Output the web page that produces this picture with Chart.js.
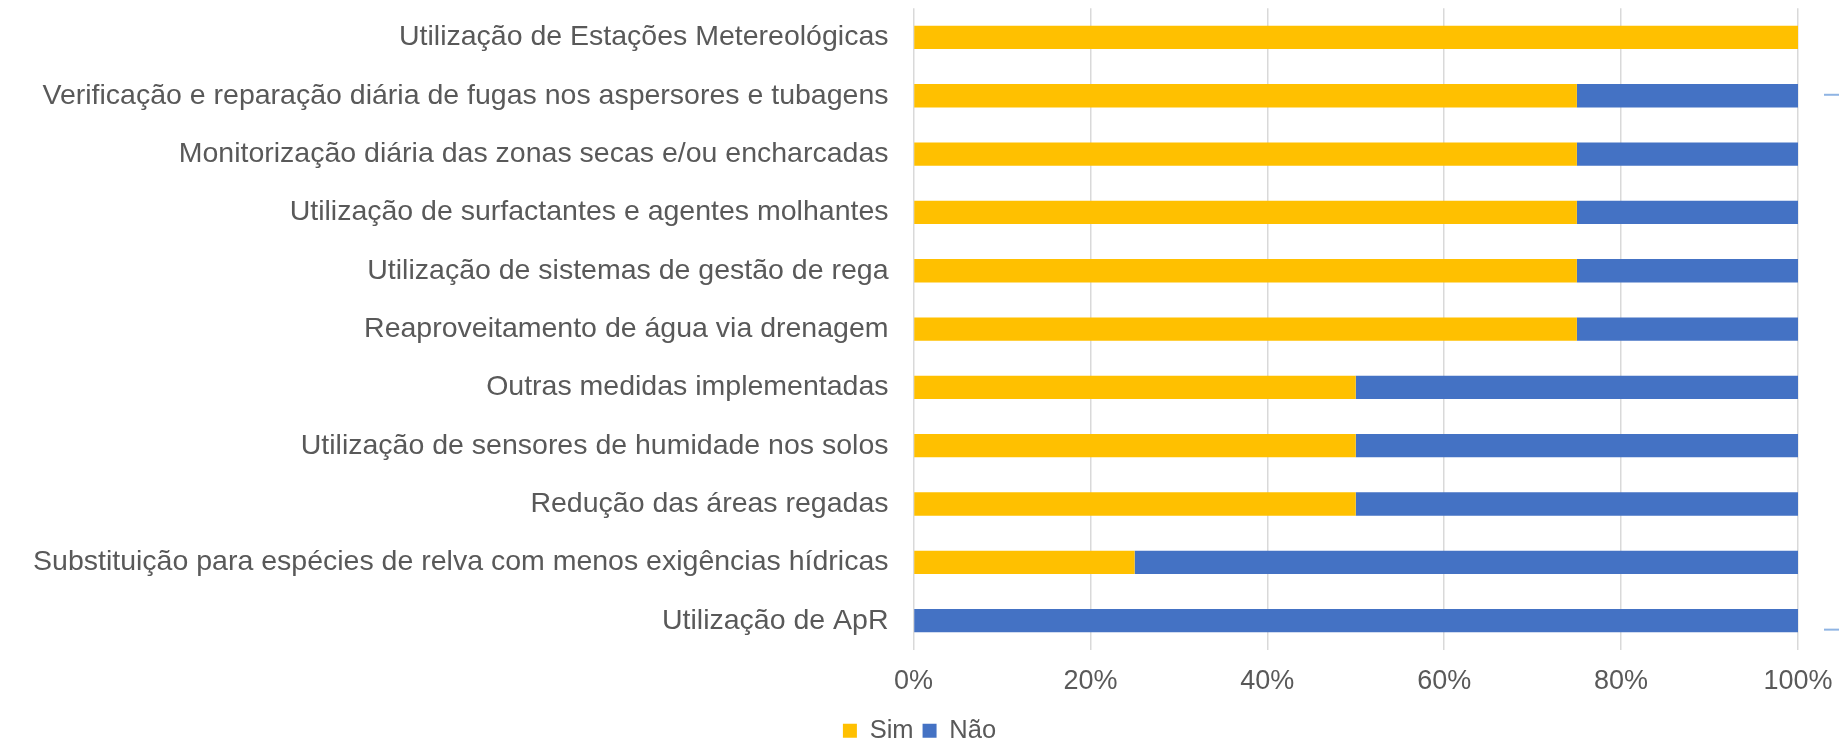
<!DOCTYPE html>
<html>
<head>
<meta charset="utf-8">
<script src="https://cdn.jsdelivr.net/npm/chart.js@4.4.1/dist/chart.umd.min.js"></script>
<style>
  html, body { margin: 0; padding: 0; background: #fff; }
  #wrap { width: 1839px; height: 744px; position: relative; }
</style>
</head>
<body>
<div id="wrap"><canvas id="chart"></canvas></div>
<script>
// data
const categories = [
    'Utilização de Estações Metereológicas',
    'Verificação e reparação diária de fugas nos aspersores e tubagens',
    'Monitorização diária das zonas secas e/ou encharcadas',
    'Utilização de surfactantes e agentes molhantes',
    'Utilização de sistemas de gestão de rega',
    'Reaproveitamento de água via drenagem',
    'Outras medidas implementadas',
    'Utilização de sensores de humidade nos solos',
    'Redução das áreas regadas',
    'Substituição para espécies de relva com menos exigências hídricas',
    'Utilização de ApR'
];
const simValues = [100, 75, 75, 75, 75, 75, 50, 50, 50, 25, 0];
const naoValues = [0, 25, 25, 25, 25, 25, 50, 50, 50, 75, 100];
const xTickStep = 20;

const textColor = '#595959';
const fontFamily = '"Liberation Sans", Arial, sans-serif';

// the two little blue strokes at the right edge
const edgeMarks = {
    id: 'edgeMarks',
    afterDraw(chart) {
        const ctx = chart.ctx;
        const y = chart.scales.y;
        const x0 = chart.chartArea.right + 26;
        const x1 = chart.width;
        ctx.save();
        ctx.strokeStyle = '#8fb4e3';
        ctx.lineWidth = 2;
        [y.getPixelForValue(1) - 1, y.getPixelForValue(10) + 9].forEach(py => {
            ctx.beginPath();
            ctx.moveTo(x0, py);
            ctx.lineTo(x1, py);
            ctx.stroke();
        });
        ctx.restore();
    }
};

new Chart(document.getElementById('chart').getContext('2d'), {
    type: 'bar',
    data: {
        labels: categories,
        datasets: [
            { label: 'Sim', data: simValues, backgroundColor: '#FFC000' },
            { label: 'Não', data: naoValues, backgroundColor: '#4472C4' }
        ]
    },
    options: {
        indexAxis: 'y',
        responsive: true,
        maintainAspectRatio: false,
        animation: false,
        datasets: { bar: { categoryPercentage: 1, barPercentage: 0.4, borderWidth: 0 } },
        layout: { padding: { top: 8.3, right: 0, bottom: -9.45, left: 0 } },
        plugins: {
            tooltip: { enabled: false },
            legend: {
                position: 'bottom',
                labels: {
                    boxWidth: 14, boxHeight: 14, padding: 9,
                    color: textColor,
                    font: { family: fontFamily, size: 25.5, lineHeight: 1 }
                }
            }
        },
        scales: {
            x: {
                stacked: true,
                min: 0, max: 100,
                border: { display: false },
                grid: { color: '#d9d9d9', lineWidth: 1.5, drawTicks: false },
                ticks: {
                    stepSize: xTickStep,
                    padding: 15.7,
                    color: textColor,
                    font: { family: fontFamily, size: 27 },
                    callback: v => v + '%'
                },
                afterFit: s => { s.height = 59.15; s.paddingLeft = 0; s.paddingRight = 41; }
            },
            y: {
                stacked: true,
                border: { display: false },
                grid: { display: false, drawTicks: false },
                ticks: {
                    padding: 25,
                    color: textColor,
                    font: { family: fontFamily, size: 28.5 },
                    autoSkip: false
                },
                afterFit: s => { s.width = 913.5; s.paddingTop = 0; s.paddingBottom = 0; }
            }
        }
    },
    plugins: [edgeMarks]
});
</script>
</body>
</html>
